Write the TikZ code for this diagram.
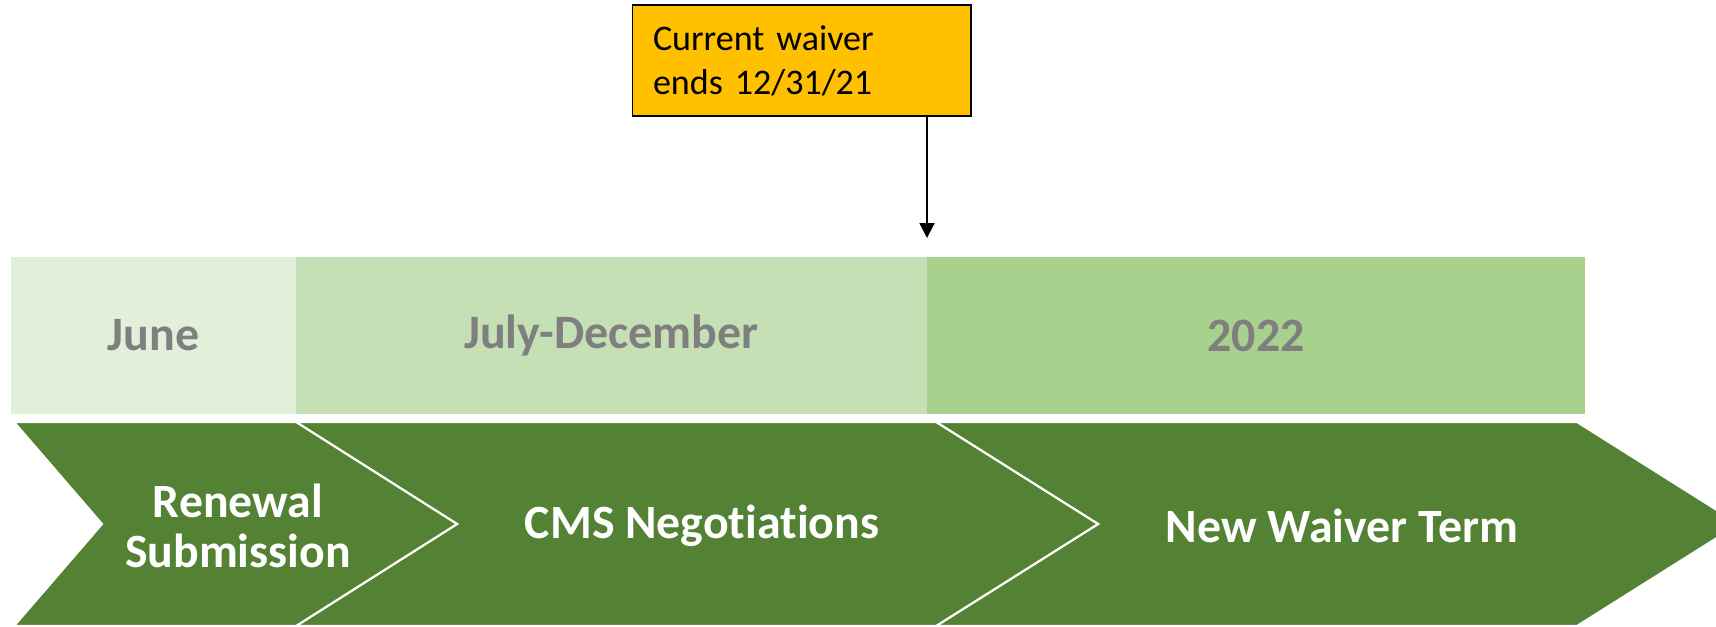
\documentclass[tikz,border=0pt]{standalone}
\usepackage{fontspec}
\setmainfont{Carlito}[Ligatures=NoCommon]
\usetikzlibrary{arrows.meta}
\definecolor{chevgreen}{HTML}{548235}
\definecolor{junegreen}{HTML}{E2EFDA}
\definecolor{julygreen}{HTML}{C5E0B4}
\definecolor{yeargreen}{HTML}{A9D18E}
\definecolor{labelgray}{HTML}{7F7F7F}
\definecolor{waiveryellow}{HTML}{FFC000}
\begin{document}
\begin{tikzpicture}[x=0.02cm, y=-0.02cm,
  band/.style={inner sep=0pt, minimum height=3.14cm, text=labelgray, font=\fontsize{27.3}{30}\selectfont\bfseries},
  chev/.style={fill=chevgreen, draw=white, line width=1.2pt, line join=miter},
  chevlabel/.style={text=white, align=center, font=\fontsize{27.2}{28.5}\selectfont\bfseries}]
\useasboundingbox (0,0) rectangle (1716,626);

% month bands
\node[band, fill=junegreen, minimum width=5.7cm] (june) at (153.5,335.5) {June};
\node[band, fill=julygreen, minimum width=12.62cm] (july) at (611.5,335.5) {July-December};
\node[band, fill=yeargreen, minimum width=13.16cm] (year) at (1256,335.5) {2022};

% chevrons, back to front
\path[chev] (936,422) -- (1577,422) -- (1739,524) -- (1577,626) -- (936,626) -- (1098,524) -- cycle;
\path[chev] (296,422) -- (936,422) -- (1098,524) -- (936,626) -- (296,626) -- (457,524) -- cycle;
\path[chev] (14,422) -- (296,422) -- (457,524) -- (296,626) -- (14,626) -- (102,524) -- cycle;
\node[chevlabel] (renewal) at (238,526) {Renewal\\Submission};
\node[chevlabel] (cms) at (702,526) {CMS Negotiations};
\node[chevlabel] (term) at (1342,526) {New Waiver Term};

% waiver end
\node[draw=black, fill=waiveryellow, line width=0.6pt, text width=5.94cm, inner xsep=0.42cm, minimum height=2.22cm, align=left, font=\fontsize{20.5}{25}\selectfont] (waiver) at (801.5,60.5) {Current waiver\\ends 12/31/21};
\coordinate (yearend) at (927,238);
\draw[-{Triangle[width=8.5pt,length=8.5pt]}, line width=1.1pt] (waiver.south -| yearend) -- (yearend);
\end{tikzpicture}
\end{document}
